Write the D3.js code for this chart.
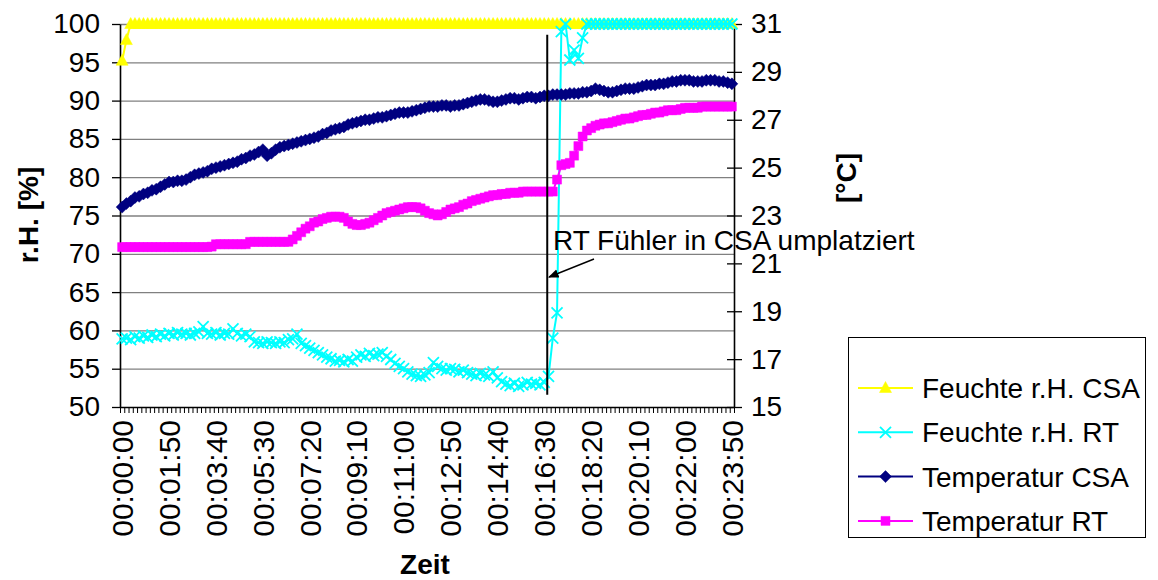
<!DOCTYPE html>
<html>
<head>
<meta charset="utf-8">
<script src="https://cdn.jsdelivr.net/npm/d3@7"></script>
<style>
body { margin: 0; background: #fff; }
text { font-family: "Liberation Sans", Arial, sans-serif; fill: #000; }
</style>
</head>
<body>
<svg id="chart" width="1158" height="580"></svg>
<script>
// time stamps, one every 10 seconds
var times = d3.range(144).map(function(i) {
    var s = i * 10;
    var mm = Math.floor(s / 60), ss = s % 60;
    return '00:' + (mm < 10 ? '0' : '') + mm + ':' + (ss < 10 ? '0' : '') + ss;
});

var tickLabels = ['00:00:00', '00:01:50', '00:03:40', '00:05:30', '00:07:20', '00:09:10', '00:11:00',
                  '00:12:50', '00:14:40', '00:16:30', '00:18:20', '00:20:10', '00:22:00', '00:23:50'];
var leftTicks = [50, 55, 60, 65, 70, 75, 80, 85, 90, 95, 100];
var rightTicks = [15, 17, 19, 21, 23, 25, 27, 29, 31];

var feuchteCSA = [
    95.2, 97.9, 100, 100, 100, 100, 100, 100, 100, 100,
    100, 100, 100, 100, 100, 100, 100, 100, 100, 100,
    100, 100, 100, 100, 100, 100, 100, 100, 100, 100,
    100, 100, 100, 100, 100, 100, 100, 100, 100, 100,
    100, 100, 100, 100, 100, 100, 100, 100, 100, 100,
    100, 100, 100, 100, 100, 100, 100, 100, 100, 100,
    100, 100, 100, 100, 100, 100, 100, 100, 100, 100,
    100, 100, 100, 100, 100, 100, 100, 100, 100, 100,
    100, 100, 100, 100, 100, 100, 100, 100, 100, 100,
    100, 100, 100, 100, 100, 100, 100, 100, 100, 100,
    100, 100, 100, 100, 100, 100, 100, 100, 100, 100,
    100, 100, 100, 100, 100, 100, 100, 100, 100, 100,
    100, 100, 100, 100, 100, 100, 100, 100, 100, 100,
    100, 100, 100, 100, 100, 100, 100, 100, 100, 100,
    100, 100, 100, 100
];

var feuchteRT = [
    58.9, 59.0, 58.8, 59.2, 59.0, 59.3, 59.1, 59.4, 59.2, 59.5,
    59.3, 59.6, 59.4, 59.7, 59.5, 59.6, 59.4, 59.6, 59.8, 60.5,
    59.6, 59.5, 59.7, 59.4, 59.6, 59.5, 60.2, 59.6, 59.3, 59.5,
    59.2, 58.5, 58.4, 58.3, 58.5, 58.4, 58.3, 58.5, 58.4, 58.8,
    58.9, 59.5, 58.3, 58.0, 57.7, 57.4, 57.1, 56.8, 56.5, 56.3,
    56.0, 56.1, 55.9, 56.2, 56.0, 56.5, 56.8, 56.6, 57.0, 56.7,
    56.9, 57.1, 56.6, 56.2, 55.7, 55.3, 55.0, 54.6, 54.3, 54.1,
    54.0, 54.2, 54.5, 55.8, 55.3, 55.0, 54.8, 55.0, 54.9, 54.6,
    54.8, 54.5, 54.3, 54.1, 54.4, 54.2, 54.0, 54.6, 53.8, 53.3,
    53.0, 52.8, 53.1, 52.7, 52.9, 53.2, 53.0, 53.1, 52.9, 53.2,
    54.0, 59.0, 62.3, 99.0, 100, 95.3, 96.6, 95.5, 98.2, 100,
    100, 100, 100, 100, 100, 100, 100, 100, 100, 100,
    100, 100, 100, 100, 100, 100, 100, 100, 100, 100,
    100, 100, 100, 100, 100, 100, 100, 100, 100, 100,
    100, 100, 100, 100
];

var tempCSA = [
    23.35, 23.5, 23.6, 23.75, 23.8, 23.9, 23.95, 24.05, 24.1, 24.2,
    24.3, 24.4, 24.4, 24.45, 24.45, 24.5, 24.6, 24.7, 24.75, 24.8,
    24.85, 24.95, 25.0, 25.05, 25.1, 25.15, 25.2, 25.25, 25.35, 25.4,
    25.5, 25.55, 25.65, 25.75, 25.5, 25.6, 25.75, 25.85, 25.9, 25.95,
    26.0, 26.05, 26.1, 26.15, 26.2, 26.25, 26.3, 26.4, 26.45, 26.55,
    26.6, 26.65, 26.7, 26.8, 26.85, 26.9, 26.95, 27.0, 27.0, 27.05,
    27.1, 27.1, 27.15, 27.2, 27.25, 27.3, 27.3, 27.3, 27.35, 27.4,
    27.45, 27.5, 27.55, 27.55, 27.55, 27.6, 27.6, 27.55, 27.6, 27.6,
    27.65, 27.7, 27.75, 27.8, 27.85, 27.85, 27.8, 27.75, 27.75, 27.8,
    27.85, 27.9, 27.9, 27.85, 27.9, 27.95, 27.95, 27.9, 27.95, 28.0,
    28.0, 28.05, 28.05, 28.05, 28.05, 28.1, 28.1, 28.1, 28.15, 28.15,
    28.2, 28.3, 28.25, 28.2, 28.15, 28.15, 28.2, 28.25, 28.3, 28.3,
    28.3, 28.35, 28.4, 28.45, 28.45, 28.45, 28.5, 28.5, 28.55, 28.6,
    28.6, 28.65, 28.65, 28.65, 28.6, 28.6, 28.6, 28.65, 28.65, 28.65,
    28.6, 28.6, 28.55, 28.5
];

var tempRT = [
    21.68, 21.68, 21.68, 21.68, 21.68, 21.68, 21.68, 21.68, 21.68, 21.68,
    21.68, 21.68, 21.68, 21.68, 21.68, 21.68, 21.68, 21.68, 21.68, 21.68,
    21.68, 21.7, 21.8, 21.8, 21.8, 21.8, 21.8, 21.8, 21.8, 21.8,
    21.9, 21.9, 21.9, 21.9, 21.9, 21.9, 21.9, 21.9, 21.9, 21.9,
    22.0, 22.15, 22.3, 22.45, 22.55, 22.7, 22.75, 22.85, 22.9, 22.95,
    22.95, 22.95, 22.9, 22.75, 22.65, 22.6, 22.6, 22.65, 22.7, 22.8,
    22.9, 23.0, 23.1, 23.15, 23.2, 23.25, 23.3, 23.35, 23.35, 23.35,
    23.3, 23.2, 23.1, 23.05, 23.0, 23.05, 23.15, 23.25, 23.3, 23.35,
    23.45, 23.5, 23.6, 23.65, 23.7, 23.75, 23.8, 23.85, 23.85, 23.9,
    23.9, 23.95, 23.95, 23.95, 24.0, 24.0, 24.0, 24.0, 24.0, 24.0,
    24.0, 24.0, 24.5, 25.1, 25.15, 25.2, 25.5, 25.9, 26.3, 26.55,
    26.65, 26.75, 26.8, 26.85, 26.85, 26.9, 26.95, 27.0, 27.05, 27.05,
    27.1, 27.15, 27.2, 27.2, 27.25, 27.3, 27.3, 27.35, 27.4, 27.4,
    27.4, 27.45, 27.5, 27.5, 27.5, 27.5, 27.55, 27.55, 27.55, 27.55,
    27.55, 27.55, 27.55, 27.55
];

var seriesNames = ['Feuchte r.H. CSA', 'Feuchte r.H. RT', 'Temperatur CSA', 'Temperatur RT'];
var seriesColors = ['#ffff00', '#00ffff', '#000080', '#ff00ff'];

var svg = d3.select('#chart');
var plotLeft = 120, plotRight = 734, plotTop = 24, plotBottom = 407;

var x = d3.scaleBand().domain(times).range([plotLeft, plotRight]).padding(0);
var xPos = function(t) { return x(t) + x.bandwidth() / 2; };
var xIdx = d3.scaleLinear().domain([0, times.length]).range([plotLeft, plotRight]);
var yL = d3.scaleLinear().domain([50, 100]).range([plotBottom, plotTop]);
var yR = d3.scaleLinear().domain([15, 31]).range([plotBottom, plotTop]);

// gridlines
svg.append('g')
    .attr('transform', 'translate(' + plotLeft + ',0)')
    .call(d3.axisLeft(yL).tickValues(leftTicks.slice(1)).tickSize(-(plotRight - plotLeft)).tickFormat(''))
    .call(function(g) {
        g.select('.domain').remove();
        g.selectAll('line').attr('stroke', '#808080').attr('stroke-width', 1.3);
    });

var font = 28;

// left axis
svg.append('g')
    .attr('transform', 'translate(' + plotLeft + ',0)')
    .call(d3.axisLeft(yL).tickValues(leftTicks).tickSizeInner(8).tickSizeOuter(0).tickPadding(12))
    .call(function(g) {
        g.select('.domain').attr('stroke', '#000').attr('stroke-width', 1.6);
        g.selectAll('line').attr('stroke', '#000').attr('stroke-width', 1.3);
        g.selectAll('text').attr('font-size', font).attr('font-family', null);
    });

// right axis
svg.append('g')
    .attr('transform', 'translate(' + plotRight + ',0)')
    .call(d3.axisRight(yR).tickValues(rightTicks).tickSizeInner(8).tickSizeOuter(0).tickPadding(9))
    .call(function(g) {
        g.select('.domain').attr('stroke', '#000').attr('stroke-width', 1.6);
        g.selectAll('line').attr('stroke', '#000').attr('stroke-width', 1.3);
        g.selectAll('text').attr('font-size', font).attr('font-family', null);
    });
svg.append('g')
    .attr('transform', 'translate(' + plotRight + ',0)')
    .call(d3.axisRight(yR).tickValues(rightTicks).tickSize(-7).tickFormat(''))
    .call(function(g) {
        g.select('.domain').remove();
        g.selectAll('line').attr('stroke', '#000').attr('stroke-width', 1.3);
    });

// bottom axis: small tick marks between categories
svg.append('g')
    .attr('transform', 'translate(0,' + plotBottom + ')')
    .call(d3.axisBottom(xIdx).tickValues(d3.range(times.length + 1)).tickSizeInner(6).tickSizeOuter(0).tickFormat(''))
    .call(function(g) {
        g.select('.domain').attr('stroke', '#000').attr('stroke-width', 1.6);
        g.selectAll('line').attr('stroke', '#000').attr('stroke-width', 1);
    });

// bottom labels, rotated
svg.append('g')
    .attr('transform', 'translate(0,' + plotBottom + ')')
    .call(d3.axisBottom(x).tickValues(tickLabels).tickSize(0).tickPadding(0))
    .call(function(g) {
        g.select('.domain').remove();
        g.selectAll('text')
            .attr('font-size', 30).attr('font-family', null)
            .attr('transform', 'rotate(-90)')
            .attr('text-anchor', 'end')
            .attr('x', -13).attr('y', 0).attr('dy', '0.36em');
    });

// axis titles
svg.append('text').attr('transform', 'translate(38,215) rotate(-90)')
    .attr('text-anchor', 'middle').attr('font-size', font).attr('font-weight', 'bold').text('r.H. [%]');
svg.append('text').attr('transform', 'translate(856,178) rotate(-90)')
    .attr('text-anchor', 'middle').attr('font-size', font).attr('font-weight', 'bold').text('[°C]');
svg.append('text').attr('x', 425).attr('y', 574)
    .attr('text-anchor', 'middle').attr('font-size', font).attr('font-weight', 'bold').text('Zeit');

// marker shapes
function markerPath(k) {
    if (k === 0) return 'M0,-6.5L6,4.5L-6,4.5Z';
    if (k === 1) return 'M-5.5,-5.5L5.5,5.5M-5.5,5.5L5.5,-5.5';
    if (k === 2) return 'M0,-6L6,0L0,6L-6,0Z';
    return 'M-4.5,-4.5H4.5V4.5H-4.5Z';
}

function drawSeries(values, k, yScale) {
    var color = seriesColors[k];
    var data = values.map(function(v, i) { return { t: times[i], v: v }; });
    var line = d3.line().x(function(d) { return xPos(d.t); }).y(function(d) { return yScale(d.v); });
    var g = svg.append('g');
    g.append('path').datum(data)
        .attr('d', line).attr('fill', 'none').attr('stroke', color).attr('stroke-width', 2);
    g.selectAll('path.m').data(data).enter().append('path')
        .attr('class', 'm')
        .attr('transform', function(d) { return 'translate(' + xPos(d.t) + ',' + yScale(d.v) + ')'; })
        .attr('d', markerPath(k))
        .attr('fill', k === 1 ? 'none' : color)
        .attr('stroke', color)
        .attr('stroke-width', k === 1 ? 1.8 : 0.5);
}

drawSeries(feuchteCSA, 0, yL);
drawSeries(feuchteRT, 1, yL);
drawSeries(tempCSA, 2, yR);
drawSeries(tempRT, 3, yR);

// annotation
var defs = svg.append('defs');
defs.append('marker').attr('id', 'arrow')
    .attr('viewBox', '0 0 10 10').attr('refX', 9).attr('refY', 5)
    .attr('markerWidth', 7).attr('markerHeight', 7).attr('orient', 'auto')
    .append('path').attr('d', 'M0,1L10,5L0,9Z').attr('fill', '#000');

svg.append('line')
    .attr('x1', xIdx(100.2)).attr('x2', xIdx(100.2))
    .attr('y1', yL(98.6)).attr('y2', yL(51.6))
    .attr('stroke', '#000').attr('stroke-width', 2);
svg.append('line')
    .attr('x1', 594).attr('y1', 259).attr('x2', 549).attr('y2', 277)
    .attr('stroke', '#000').attr('stroke-width', 1.5).attr('marker-end', 'url(#arrow)');
svg.append('text').attr('x', 553).attr('y', 250).attr('font-size', font)
    .text('RT Fühler in CSA umplatziert');

// legend
var legend = svg.append('g');
legend.append('rect').attr('x', 848.5).attr('y', 337.5).attr('width', 297).attr('height', 200)
    .attr('fill', '#fff').attr('stroke', '#000').attr('stroke-width', 1);
seriesNames.forEach(function(name, k) {
    var ly = 388 + k * 44.3;
    legend.append('line').attr('x1', 858).attr('x2', 913).attr('y1', ly).attr('y2', ly)
        .attr('stroke', seriesColors[k]).attr('stroke-width', 2);
    legend.append('path').attr('transform', 'translate(885.5,' + ly + ')')
        .attr('d', markerPath(k))
        .attr('fill', k === 1 ? 'none' : seriesColors[k])
        .attr('stroke', seriesColors[k]).attr('stroke-width', k === 1 ? 1.8 : 0.5);
    legend.append('text').attr('x', 922).attr('y', ly).attr('dy', '0.36em')
        .attr('font-size', font).text(name);
});
</script>
</body>
</html>
